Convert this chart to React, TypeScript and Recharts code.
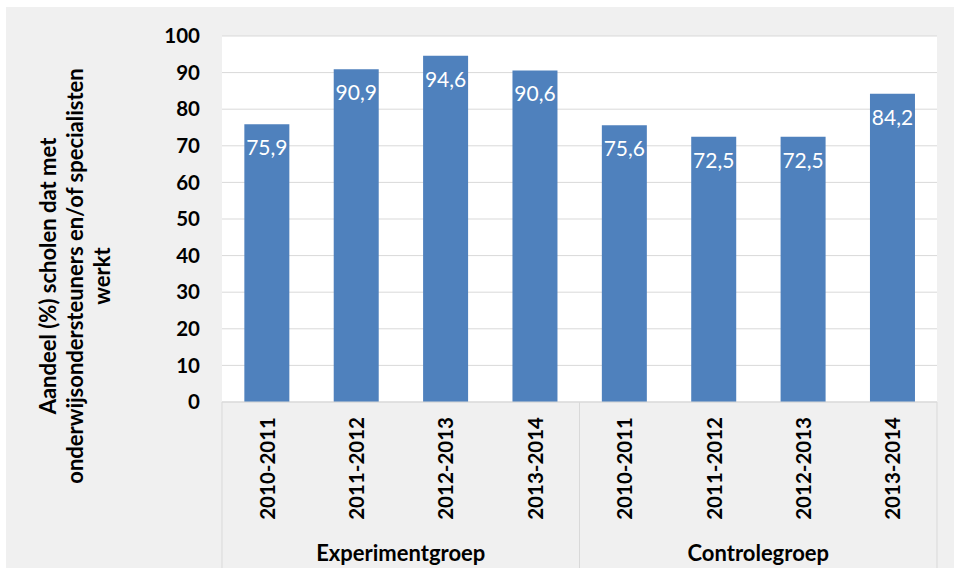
import { BarChart, Bar, XAxis, YAxis, CartesianGrid, LabelList } from 'recharts';

const years = ['2010-2011', '2011-2012', '2012-2013', '2013-2014', '2010-2011', '2011-2012', '2012-2013', '2013-2014'];
const groups = ['Experimentgroep', 'Experimentgroep', 'Experimentgroep', 'Experimentgroep', 'Controlegroep', 'Controlegroep', 'Controlegroep', 'Controlegroep'];
const shares = [75.9, 90.9, 94.6, 90.6, 75.6, 72.5, 72.5, 84.2];
const yTicks = [0, 10, 20, 30, 40, 50, 60, 70, 80, 90, 100];
const yLabelLines = ['Aandeel (%) scholen dat met', 'onderwijsondersteuners en/of specialisten', 'werkt'];

const data = years.map((year, i) => ({ key: `${groups[i]}-${year}`, year, group: groups[i], share: shares[i] }));

const W = 954;
const H = 579;
const MARGIN = { top: 36, right: 17, left: 0, bottom: 0 };
const Y_AXIS_W = 222;
const YEAR_AXIS_H = 128;
const GROUP_AXIS_H = 49;
const PLOT_LEFT = MARGIN.left + Y_AXIS_W;
const PLOT_RIGHT = W - MARGIN.right;
const PLOT_BOTTOM = H - MARGIN.bottom - YEAR_AXIS_H - GROUP_AXIS_H;
const FONT = 'Lato, "Noto Sans", sans-serif';
const GRID = '#d9d9d9';

function YearTick({ x, y, payload }: any) {
  return (
    <text
      transform={`translate(${x},${y + 15}) rotate(-90)`}
      textAnchor="end"
      dominantBaseline="central"
      fontFamily={FONT}
      fontWeight={700}
      fontSize={20.5}
      fill="#000"
    >
      {payload.value}
    </text>
  );
}

function GroupTick({ x, y, payload, index }: any) {
  const half = (PLOT_RIGHT - PLOT_LEFT) / 4;
  return (
    <g>
      <line x1={x - half} x2={x - half} y1={PLOT_BOTTOM} y2={H - 11} stroke={GRID} />
      {index === 1 && <line x1={x + half} x2={x + half} y1={PLOT_BOTTOM} y2={H - 11} stroke={GRID} />}
      <text x={x} y={y + 22} textAnchor="middle" dominantBaseline="central" fontFamily={FONT} fontWeight={700} fontSize={22} fill="#000">
        {payload.value}
      </text>
    </g>
  );
}

function YLabel({ viewBox }: any) {
  const cx = viewBox.x + 74;
  const cy = viewBox.y + viewBox.height / 2 + 57;
  return (
    <text
      transform={`translate(${cx},${cy}) rotate(-90)`}
      textAnchor="middle"
      fontFamily={FONT}
      fontWeight={700}
      fontSize={22}
      fill="#000"
    >
      {yLabelLines.map((l, i) => (
        <tspan key={i} x={0} y={(i - 1) * 27} dominantBaseline="central">
          {l}
        </tspan>
      ))}
    </text>
  );
}

export default function App() {
  return (
    <div style={{ position: 'absolute', left: 0, top: 0, width: W, height: H, background: '#fff' }}>
      <div style={{ position: 'absolute', left: 6, top: 7, width: W - 6, height: H - 18, background: '#f0f0f0' }} />
      <div style={{ position: 'absolute', left: 0, top: 0 }}>
        <BarChart width={W} height={H} data={data} margin={MARGIN} barCategoryGap="25%">
          <CartesianGrid vertical={false} stroke={GRID} fill="#fff" />
          <XAxis
            dataKey="year"
            xAxisId={0}
            height={YEAR_AXIS_H}
            interval={0}
            tick={<YearTick />}
            tickLine={false}
            tickSize={0}
            tickMargin={0}
            axisLine={{ stroke: GRID }}
          />
          <XAxis
            dataKey="group"
            xAxisId="group"
            allowDuplicatedCategory={false}
            height={GROUP_AXIS_H}
            interval={0}
            tick={<GroupTick />}
            tickLine={false}
            tickSize={0}
            tickMargin={0}
            axisLine={false}
          />
          <YAxis
            width={Y_AXIS_W}
            domain={[0, 100]}
            ticks={yTicks}
            interval={0}
            axisLine={false}
            tickLine={false}
            tickSize={0}
            tickMargin={22}
            tick={{ fontFamily: FONT, fontWeight: 700, fontSize: 20.5, fill: '#000' }}
            label={<YLabel />}
          />
          <Bar dataKey="share" xAxisId={0} fill="#4f81bd" isAnimationActive={false}>
            <LabelList
              dataKey="share"
              position="insideTop"
              offset={16}
              formatter={(v: any) => String(v).replace('.', ',')}
              style={{ fontFamily: FONT, fontSize: 21, fill: '#fff' }}
            />
          </Bar>
        </BarChart>
      </div>
    </div>
  );
}
